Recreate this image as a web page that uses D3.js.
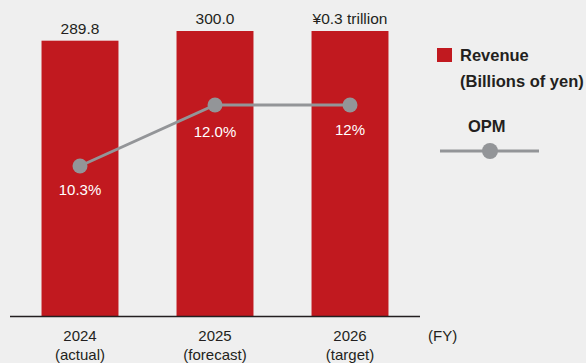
<!DOCTYPE html>
<html><head><meta charset="utf-8">
<script src="https://cdn.jsdelivr.net/npm/d3@7"></script>
<style>
html,body{margin:0;padding:0;background:#efefef;}
svg{display:block;font-family:"Liberation Sans",Arial,sans-serif;}
</style></head>
<body>
<svg id="c" width="586" height="363"></svg>
<script>
const years = ["2024","2025","2026"];
const subLabels = ["(actual)","(forecast)","(target)"];
const revenue = [289.8, 300.0, 300.0];
const revenueLabels = ["289.8","300.0","¥0.3 trillion"];
const opm = [10.3, 12.0, 12.0];
const opmLabels = ["10.3%","12.0%","12%"];

const svg = d3.select("#c");
const red = "#c1191f", gray = "#939598", dark = "#231f20";

const x = d3.scaleBand().domain(years).range([10, 420]).paddingInner(0.43).paddingOuter(0.2335);
const y = d3.scaleLinear().domain([0, 300]).range([316, 31]);
const y2 = d3.scaleLinear().domain([10.3, 12]).range([166, 105]);
const cx = d => x(d) + x.bandwidth()/2;

// bars
svg.selectAll("rect.bar").data(years).join("rect")
  .attr("x", d => x(d)).attr("width", x.bandwidth())
  .attr("y", (d,i) => y(revenue[i])).attr("height", (d,i) => y(0) - y(revenue[i]))
  .attr("fill", red);

svg.selectAll("text.vl").data(years).join("text")
  .attr("x", cx).attr("y", (d,i) => y(revenue[i]) - 7)
  .attr("text-anchor","middle").attr("font-size",15.5).attr("fill",dark)
  .text((d,i) => revenueLabels[i]);

// axis
const axis = svg.append("g").attr("transform","translate(0,316)")
  .call(d3.axisBottom(x).tickSize(0).tickFormat(""));
axis.select(".domain").attr("d","M10,0.5H420").attr("stroke",dark).attr("stroke-width",1.5);

svg.selectAll("text.yr").data(years).join("text")
  .attr("x", cx).attr("y", 341)
  .attr("text-anchor","middle").attr("font-size",15).attr("fill",dark).text(d => d);
svg.selectAll("text.sub").data(years).join("text")
  .attr("x", cx).attr("y", 360)
  .attr("text-anchor","middle").attr("font-size",15).attr("fill",dark).text((d,i) => subLabels[i]);
svg.append("text").attr("x",428).attr("y",341).attr("font-size",15).attr("fill",dark).text("(FY)");

// line
const line = d3.line().x((d,i) => cx(years[i])).y(d => y2(d));
svg.append("path").datum(opm).attr("d", line).attr("fill","none").attr("stroke",gray).attr("stroke-width",3);
svg.selectAll("circle.pt").data(opm).join("circle")
  .attr("cx",(d,i) => cx(years[i])).attr("cy", d => y2(d)).attr("r",7.5).attr("fill",gray);
const lblDy = [29, 32, 30];
svg.selectAll("text.pl").data(opm).join("text")
  .attr("x",(d,i) => cx(years[i])).attr("y",(d,i) => y2(d) + lblDy[i])
  .attr("text-anchor","middle").attr("font-size",15).attr("fill","#ffffff").text((d,i) => opmLabels[i]);

// legend
const lg = svg.append("g");
lg.append("rect").attr("x",437).attr("y",48).attr("width",15).attr("height",14).attr("fill",red);
lg.append("text").attr("x",460).attr("y",61).attr("font-size",16.5).attr("font-weight","bold").attr("fill",dark).text("Revenue");
lg.append("text").attr("x",460).attr("y",87).attr("font-size",16.5).attr("font-weight","bold").attr("fill",dark).text("(Billions of yen)");
lg.append("text").attr("x",468).attr("y",132).attr("font-size",16.5).attr("font-weight","bold").attr("fill",dark).text("OPM");
lg.append("line").attr("x1",440).attr("x2",539).attr("y1",151).attr("y2",151).attr("stroke",gray).attr("stroke-width",3);
lg.append("circle").attr("cx",490).attr("cy",151).attr("r",8).attr("fill",gray);
</script>
</body></html>
